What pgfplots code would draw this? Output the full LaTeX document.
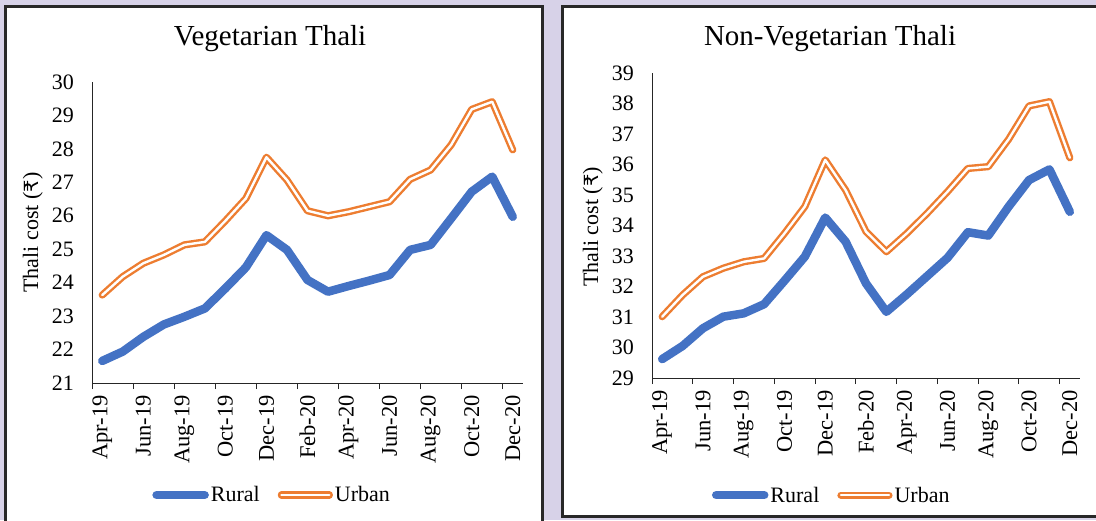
\documentclass[border=0pt]{standalone}
\usepackage{fontspec}
\setmainfont{Liberation Serif}
\newfontfamily\rupeefont{DejaVu Sans}
\usepackage{pgfplots}
\pgfplotsset{compat=1.18}
\definecolor{bg}{RGB}{215,210,232}
\definecolor{rural}{RGB}{68,114,196}
\definecolor{urban}{RGB}{237,125,49}
\definecolor{frame}{RGB}{40,40,40}
\newcommand{\tickfont}{\fontsize{22}{26}\selectfont}
\newcommand{\xtickfont}{\fontsize{22.5}{26}\selectfont}
\newcommand{\titlefont}{\fontsize{29}{34}\selectfont}
\pgfplotsset{thali/.style={
  scale only axis,
  anchor=south west,
  xmin=-0.5, xmax=20.5,
  axis x line*=bottom, axis y line*=left,
  axis line style={-, black!85, line width=1pt},
  xtick={-0.5,1.5,...,19.5},
  xticklabels={},
  major tick length=6pt,
  tick align=outside,
  x tick style={black!85, line width=1pt},
  extra x ticks={0,2,...,20},
  extra x tick labels={Apr-19,Jun-19,Aug-19,Oct-19,Dec-19,Feb-20,Apr-20,Jun-20,Aug-20,Oct-20,Dec-20},
  extra x tick style={major tick length=0pt},
  xticklabel style={rotate=90, anchor=east, font=\xtickfont, inner sep=0pt},
  xticklabel shift=12pt,
  y tick style={draw=none},
  yticklabel style={font=\tickfont, inner sep=0pt, xshift=-12pt, anchor=east},
  /pgf/number format/assume math mode=true,
  ylabel={Thali cost ({\rupeefont\fontsize{19.5}{22}\selectfont ₹})},
  ylabel style={font=\tickfont, anchor=center},
  title style={font=\titlefont, anchor=base},
  legend image code/.code={\draw[#1] (0pt,0pt) -- (48pt,0pt);},
  legend style={draw=none, fill=none, legend columns=2, font=\tickfont, anchor=center, inner sep=0pt,
     nodes={inner sep=2pt},
     /tikz/every even column/.append style={column sep=16pt}},
  clip=false,
}}
\begin{document}
\begin{tikzpicture}[x=1pt,y=1pt]
\useasboundingbox (0,0) rectangle (1096,520);
\clip (0,0) rectangle (1096,520);
\fill[bg] (0,0) rectangle (1096,520);
\filldraw[fill=white, draw=frame, line width=3pt] (5.5,-10) rectangle (542.5,513.5);
\filldraw[fill=white, draw=frame, line width=3pt] (562,3.5) rectangle (1120,513.5);

\begin{axis}[thali, at={(92pt,137pt)}, width=431pt, height=301pt,
  ymin=21, ymax=30, ytick={21,22,...,30},
  title={Vegetarian Thali},
  title style={at={(axis description cs:0.413,1.100)}},
  ylabel style={at={(axis description cs:-0.137,0.5)}},
  legend style={at={(axis description cs:0.418,-0.372)}}]
\addplot[rural, line width=8.5pt, line join=round, line cap=round] coordinates {
(0,21.66) (1,21.94) (2,22.38) (3,22.75) (4,22.98) (5,23.23) (6,23.83) (7,24.46) (8,25.42) (9,24.98) (10,24.08)
(11,23.73) (12,23.90) (13,24.06) (14,24.23) (15,24.98) (16,25.13) (17,25.92) (18,26.72) (19,27.17) (20,25.97)};
\addlegendentry{Rural}
\addplot[urban, line width=2.4pt, double=white, double distance=2.4pt, line join=round, line cap=round] coordinates {
(0,23.63) (1,24.18) (2,24.58) (3,24.83) (4,25.13) (5,25.22) (6,25.85) (7,26.52) (8,27.75) (9,27.07) (10,26.15)
(11,26.00) (12,26.12) (13,26.27) (14,26.42) (15,27.09) (16,27.37) (17,28.12) (18,29.18) (19,29.41) (20,27.97)};
\addlegendentry{Urban}
\end{axis}

\begin{axis}[thali, at={(652pt,142pt)}, width=428pt, height=305pt,
  ymin=29, ymax=39, ytick={29,30,...,39},
  title={Non-Vegetarian Thali},
  title style={at={(axis description cs:0.416,1.069)}},
  ylabel style={at={(axis description cs:-0.138,0.495)}},
  legend style={at={(axis description cs:0.42,-0.384)}}]
\addplot[rural, line width=8.5pt, line join=round, line cap=round] coordinates {
(0,29.62) (1,30.05) (2,30.63) (3,31.01) (4,31.12) (5,31.42) (6,32.19) (7,32.98) (8,34.26) (9,33.47) (10,32.10)
(11,31.17) (12,31.74) (13,32.34) (14,32.94) (15,33.78) (16,33.67) (17,34.62) (18,35.49) (19,35.84) (20,34.45)};
\addlegendentry{Rural}
\addplot[urban, line width=2.4pt, double=white, double distance=2.4pt, line join=round, line cap=round] coordinates {
(0,31.01) (1,31.72) (2,32.32) (3,32.60) (4,32.81) (5,32.92) (6,33.74) (7,34.62) (8,36.15) (9,35.16) (10,33.80)
(11,33.14) (12,33.74) (13,34.40) (14,35.11) (15,35.87) (16,35.93) (17,36.83) (18,37.92) (19,38.06) (20,36.22)};
\addlegendentry{Urban}
\end{axis}
\end{tikzpicture}
\end{document}
